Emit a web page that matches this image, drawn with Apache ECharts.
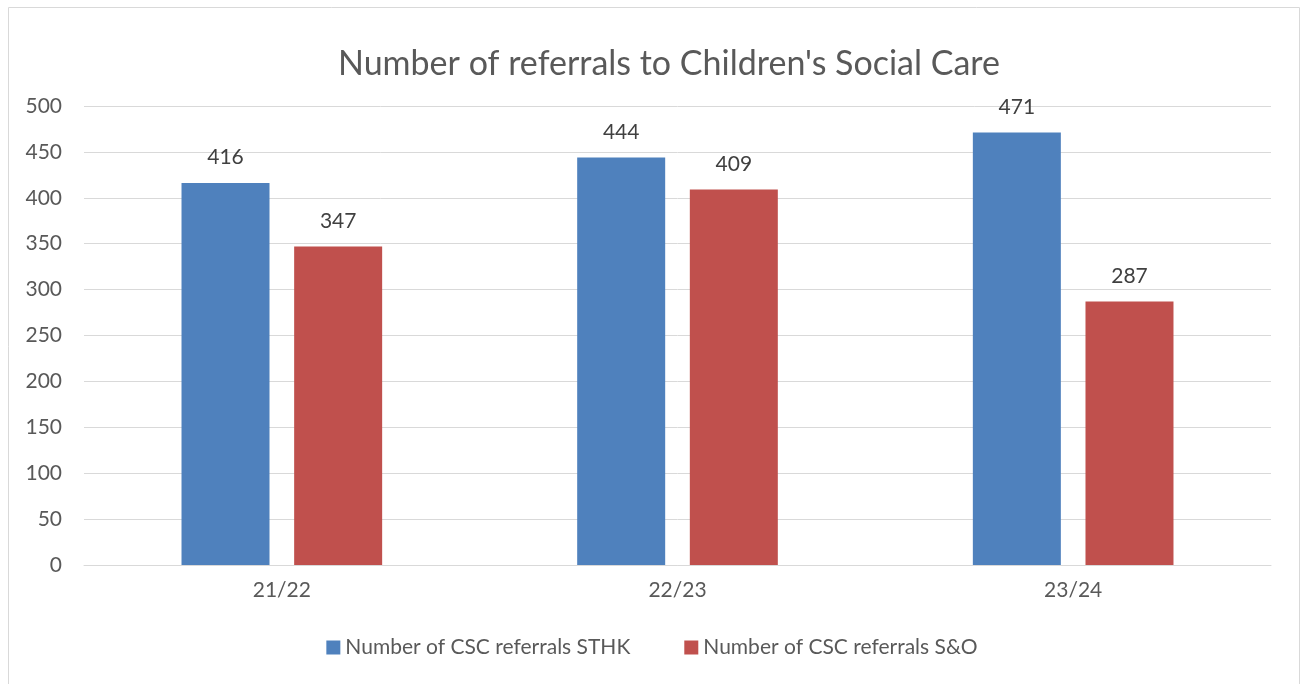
<!DOCTYPE html>
<html><head><meta charset="utf-8">
<script src="https://cdn.jsdelivr.net/npm/echarts@6/dist/echarts.min.js"></script>
<style>html,body{margin:0;padding:0;background:#fff}#c{width:1304px;height:684px}</style>
</head><body><div id="c"></div>
<script>
const categories = ['21/22', '22/23', '23/24'];
const sthk = [416, 444, 471];
const so = [347, 409, 287];
const seriesNames = ['Number of CSC referrals STHK', 'Number of CSC referrals S&O'];
const yTicks = {min: 0, max: 500, interval: 50};

const chart = echarts.init(document.getElementById('c'));
const font = 'Lato, Carlito, "Open Sans", sans-serif';
const lbl = {show: true, position: 'top', distance: 15, color: '#404040', fontSize: 21, fontFamily: font};
chart.setOption({
  animation: false,
  title: {text: "Number of referrals to Children's Social Care", left: 333, top: 42,
    textStyle: {fontSize: 34, fontWeight: 'normal', color: '#595959', fontFamily: font}},
  graphic: [{type: 'rect', shape: {x: 8.5, y: 7.5, width: 1291, height: 690},
    style: {fill: 'none', stroke: '#d9d9d9', lineWidth: 1}, silent: true}],
  grid: {left: 84, right: 33, top: 106, bottom: 119, containLabel: false},
  legend: {bottom: 21, left: 'center', itemWidth: 14, itemHeight: 14, itemGap: 54,
    icon: 'rect', textStyle: {fontSize: 21, color: '#595959', fontFamily: font}},
  xAxis: {type: 'category', data: categories,
    axisLine: {lineStyle: {color: '#d9d9d9', width: 1}}, axisTick: {show: false},
    axisLabel: {fontSize: 21, color: '#595959', fontFamily: font, margin: 15}},
  yAxis: {type: 'value', min: yTicks.min, max: yTicks.max, interval: yTicks.interval,
    axisLine: {show: false}, axisTick: {show: false},
    splitLine: {lineStyle: {color: '#d9d9d9', width: 1}},
    axisLabel: {fontSize: 21, color: '#595959', fontFamily: font, margin: 22}},
  series: [
    {name: seriesNames[0], type: 'bar', data: sthk, barWidth: 88, barGap: '28%',
     itemStyle: {color: '#4f81bd'}, label: lbl},
    {name: seriesNames[1], type: 'bar', data: so, barWidth: 88,
     itemStyle: {color: '#c0504d'}, label: lbl}
  ]
});
</script></body></html>
